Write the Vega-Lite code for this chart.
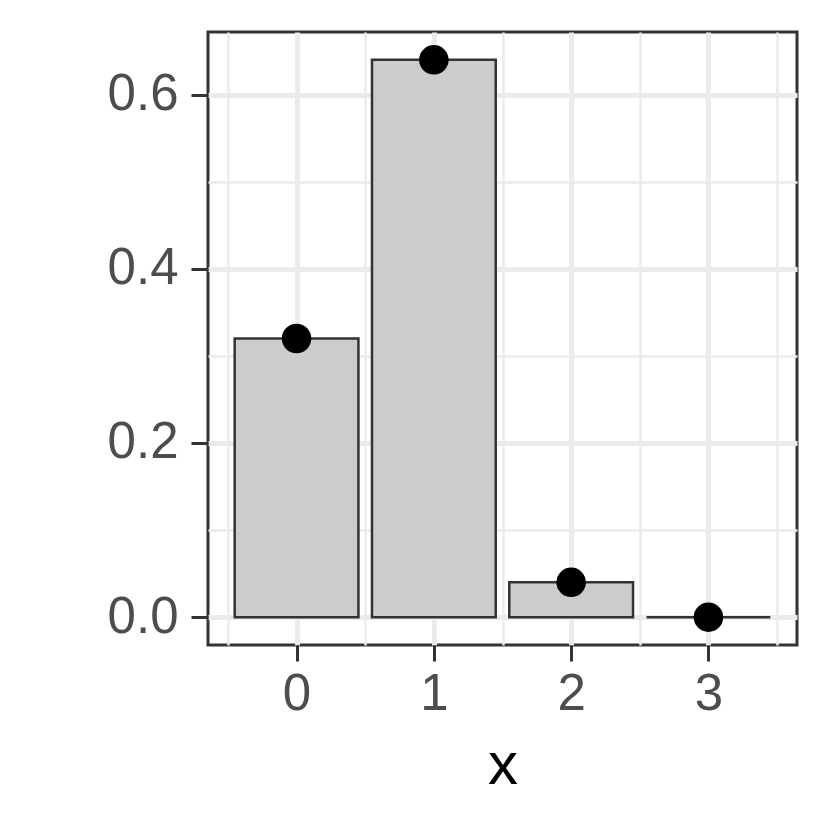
{
  "$schema": "https://vega.github.io/schema/vega-lite/v6.json",
  "width": 589,
  "height": 613,
  "autosize": "none",
  "padding": {"left": 208, "top": 32, "right": 33, "bottom": 185},
  "background": "white",
  "config": {
    "view": {"stroke": "#333333", "strokeWidth": 3},
    "font": "Liberation Sans"
  },
  "data": {"values": [
    {"x": 0, "p": 0.32},
    {"x": 1, "p": 0.64},
    {"x": 2, "p": 0.04},
    {"x": 3, "p": 0.0}
  ]},
  "resolve": {"axis": {"x": "independent", "y": "independent"}},
  "layer": [
    {
      "mark": {"type": "point", "opacity": 0},
      "encoding": {
        "x": {"field": "x", "type": "quantitative",
          "scale": {"domain": [-0.645, 3.645], "nice": false, "zero": false, "padding": 0},
          "axis": {"values": [-0.5, 0.5, 1.5, 2.5, 3.5], "grid": true, "gridColor": "#EBEBEB", "gridWidth": 2.5, "labels": false, "ticks": false, "domain": false, "title": null, "orient": "top"}},
        "y": {"field": "p", "type": "quantitative",
          "scale": {"domain": [-0.032, 0.672], "nice": false, "zero": false, "padding": 0},
          "axis": {"values": [0.1, 0.3, 0.5], "grid": true, "gridColor": "#EBEBEB", "gridWidth": 2.5, "labels": false, "ticks": false, "domain": false, "title": null, "orient": "right"}}
      }
    },
    {
      "mark": {"type": "bar", "width": 123.75, "fill": "#CCCCCC", "stroke": "#333333", "strokeWidth": 2.5},
      "encoding": {
        "x": {"field": "x", "type": "quantitative",
          "axis": {"values": [0, 1, 2, 3], "grid": true, "gridColor": "#EBEBEB", "gridWidth": 5, "domain": false,
            "ticks": true, "tickColor": "#333333", "tickWidth": 3, "tickSize": 16,
            "labelFont": "Liberation Sans", "labelFontSize": 51, "labelColor": "#4D4D4D", "labelPadding": 8,
            "title": "x", "titleFont": "Liberation Sans", "titleFontSize": 60, "titleFontWeight": "normal", "titleColor": "#000000", "titlePadding": 17, "orient": "bottom"}},
        "y": {"field": "p", "type": "quantitative",
          "axis": {"values": [0, 0.2, 0.4, 0.6], "format": ".1f", "grid": true, "gridColor": "#EBEBEB", "gridWidth": 5, "domain": false,
            "ticks": true, "tickColor": "#333333", "tickWidth": 3, "tickSize": 17,
            "labelFont": "Liberation Sans", "labelFontSize": 51, "labelColor": "#4D4D4D", "labelPadding": 13,
            "title": null, "orient": "left"}}
      }
    },
    {
      "mark": {"type": "circle", "size": 870, "color": "#000000", "opacity": 1},
      "encoding": {
        "x": {"field": "x", "type": "quantitative", "axis": null},
        "y": {"field": "p", "type": "quantitative", "axis": null}
      }
    }
  ]
}
